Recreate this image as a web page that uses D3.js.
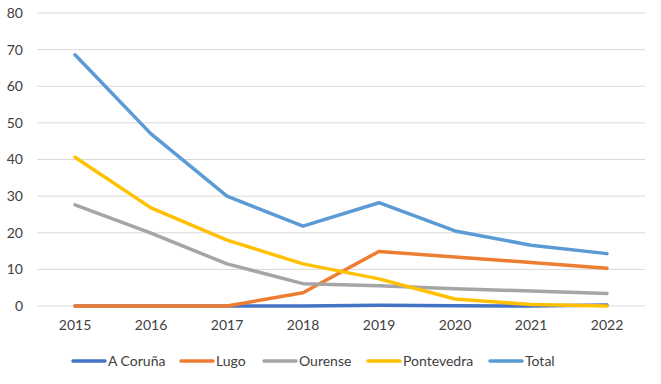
<!DOCTYPE html>
<html>
<head>
<meta charset="utf-8">
<script src="https://cdn.jsdelivr.net/npm/d3@7"></script>
<style>
  body { margin: 0; background: #fff; }
  text { font-family: Lato, "Open Sans", sans-serif; fill: #404040; }
</style>
</head>
<body>
<script>
// chart data
const years = ["2015", "2016", "2017", "2018", "2019", "2020", "2021", "2022"];
const seriesNames = ["A Coruña", "Lugo", "Ourense", "Pontevedra", "Total"];
const coruna = [0, 0, 0, 0, 0.2, 0.1, 0, 0.3];
const lugo = [0, 0, 0, 3.6, 14.9, 13.4, 11.9, 10.3];
const ourense = [27.6, 19.9, 11.5, 6.1, 5.5, 4.7, 4.1, 3.4];
const pontevedra = [40.6, 26.8, 18, 11.5, 7.4, 1.9, 0.4, 0];
const total = [68.6, 47, 30, 21.8, 28.2, 20.5, 16.6, 14.3];
const yTicks = [0, 10, 20, 30, 40, 50, 60, 70, 80];
const colors = ["#4472C4", "#ED7D31", "#A5A5A5", "#FFC000", "#5B9BD5"];

const allSeries = [coruna, lugo, ourense, pontevedra, total];

const width = 661, height = 384;
const margin = {top: 13, right: 16, bottom: 78, left: 37};

const svg = d3.select("body").append("svg")
    .attr("width", width)
    .attr("height", height);

// scales
const x = d3.scaleBand()
    .domain(years)
    .range([margin.left, width - margin.right]);
const y = d3.scaleLinear()
    .domain([0, 80])
    .range([height - margin.bottom, margin.top]);

// gridlines
svg.append("g")
    .selectAll("line")
    .data(yTicks)
    .enter().append("line")
    .attr("x1", margin.left)
    .attr("x2", width - margin.right)
    .attr("y1", d => y(d))
    .attr("y2", d => y(d))
    .attr("stroke", "#d9d9d9")
    .attr("stroke-width", 1);

// y axis labels
const yAxis = d3.axisLeft(y).tickValues(yTicks).tickSize(0).tickPadding(14);
svg.append("g")
    .attr("transform", "translate(" + margin.left + ",0)")
    .call(yAxis)
    .call(g => g.select(".domain").remove())
    .selectAll("text")
    .style("font-size", "14px")
    .attr("fill", "#404040");

// x axis labels
const xAxis = d3.axisBottom(x).tickSize(0).tickPadding(14);
svg.append("g")
    .attr("transform", "translate(0," + y(0) + ")")
    .call(xAxis)
    .call(g => g.select(".domain").remove())
    .selectAll("text")
    .style("font-size", "14px")
    .attr("fill", "#404040");

// lines
const line = d3.line()
    .x((d, i) => x(years[i]) + x.bandwidth() / 2)
    .y(d => y(d));

svg.append("g")
    .selectAll("path")
    .data(allSeries)
    .enter().append("path")
    .attr("d", d => line(d))
    .attr("fill", "none")
    .attr("stroke", (d, i) => colors[i])
    .attr("stroke-width", 3.5)
    .attr("stroke-linejoin", "round")
    .attr("stroke-linecap", "round");

// legend
const legendX = [73, 181, 264, 368, 490];
const legend = svg.append("g")
    .selectAll("g")
    .data(seriesNames)
    .enter().append("g")
    .attr("transform", (d, i) => "translate(" + legendX[i] + ",361)");

legend.append("line")
    .attr("x1", 0)
    .attr("x2", 32)
    .attr("stroke", (d, i) => colors[i])
    .attr("stroke-width", 3.5)
    .attr("stroke-linecap", "round");

legend.append("text")
    .attr("x", 35)
    .attr("dy", "0.35em")
    .style("font-size", "14px")
    .text(d => d);
</script>
</body>
</html>
